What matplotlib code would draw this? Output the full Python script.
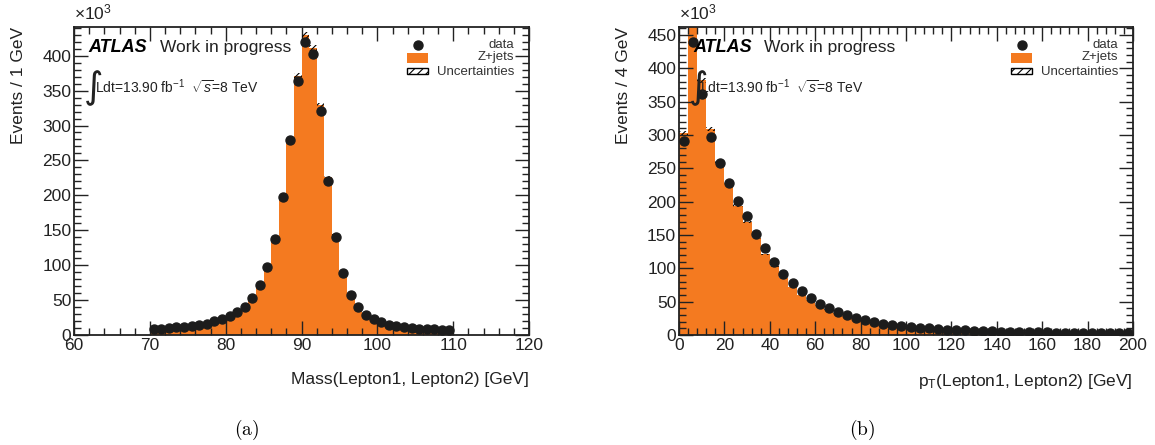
import matplotlib
matplotlib.use('Agg')
import matplotlib.pyplot as plt
import numpy as np
from matplotlib.patches import Rectangle
from matplotlib.ticker import MultipleLocator

plt.rcParams['font.family'] = ['Liberation Sans', 'DejaVu Sans']
plt.rcParams['mathtext.fontset'] = 'custom'
plt.rcParams['mathtext.rm'] = 'Liberation Sans'
plt.rcParams['mathtext.it'] = 'Liberation Sans:italic'
plt.rcParams['hatch.linewidth'] = 0.8

ORANGE = '#f47a20'
DOT = '#1c1c1c'

# ---- mass panel: 1 GeV bins, 60-120 GeV, values in thousands of events ----
mass_edges = np.arange(60, 121, 1)
mass_mc = [0] * 10 + [
    8, 9, 10, 11, 12, 13, 14.5, 16, 19, 22,
    26, 32, 39, 51, 69, 96, 135, 198, 281, 371,
    429, 411, 329, 226, 143, 88, 58, 40, 29, 23,
    18, 15, 12.5, 11, 10, 9, 8.5, 8, 7.5, 7,
] + [0] * 10
mass_data_x = np.arange(70.5, 110.5, 1)
mass_data = [
    8, 9, 9.5, 11, 12, 13, 14, 16, 19.5, 23,
    27, 33, 40, 53, 71, 98, 137, 198, 279, 364,
    419, 403, 321, 221, 141, 89, 57, 40, 29, 23,
    18, 15, 12.5, 11, 10, 9, 8.5, 8, 7.5, 7,
]

# ---- pT panel: 4 GeV bins, 0-200 GeV ----
pt_edges = np.arange(0, 201, 4)
pt_mc = [
    303, 470, 382, 309, 258, 228, 194, 169, 145, 121,
    103, 86, 72, 60, 52, 45, 38, 33, 28, 24,
    21, 18, 16, 14.5, 13.5, 12, 10.5, 9.5, 8.5, 7.8,
    7.2, 6.7, 6.2, 5.8, 5.4, 5.0, 4.7, 4.4, 4.1, 3.9,
    3.7, 3.5, 3.3, 3.2, 3.1, 3.0, 2.9, 2.8, 2.7, 2.6,
]
pt_data_x = np.arange(2, 200, 4)
pt_data = [
    291, 440, 362, 297, 258, 228, 201, 178, 152, 130,
    109, 92, 78, 66, 55, 47, 40, 34, 30, 26,
    22, 19, 17, 15, 14, 12.5, 11, 10, 9, 8,
    7.5, 7, 6.5, 6, 5.5, 5, 4.8, 4.5, 4.2, 4.0,
    3.8, 3.6, 3.4, 3.3, 3.2, 3.1, 3.0, 2.9, 2.8, 2.7,
]
unc_frac = 0.01


def draw_panel(ax, edges, mc, data_x, data, xlim, ylim, xmaj, xmin, xlabel, ylabel):
    mc = np.asarray(mc, dtype=float)
    ax.stairs(mc, edges, fill=True, color=ORANGE, zorder=1)
    widths = np.diff(edges)
    unc = mc * unc_frac
    ax.bar(edges[:-1], 2 * unc, width=widths, bottom=mc - unc, align='edge',
           fill=False, hatch='//////', linewidth=0, edgecolor='black', zorder=2)
    ax.plot(data_x, data, 'o', color=DOT, markersize=6.5, zorder=3)

    ax.set_xlim(*xlim)
    ax.set_ylim(*ylim)
    ax.xaxis.set_major_locator(MultipleLocator(xmaj))
    ax.xaxis.set_minor_locator(MultipleLocator(xmin))
    ax.yaxis.set_major_locator(MultipleLocator(50))
    ax.yaxis.set_minor_locator(MultipleLocator(10))
    ax.tick_params(which='both', direction='in', top=True, right=True,
                   labelsize=12.5, width=1.0, colors='#222222')
    ax.tick_params(which='major', length=10, pad=2)
    ax.tick_params(which='minor', length=5)
    for s in ax.spines.values():
        s.set_linewidth(1.3)
        s.set_color('#222222')

    ax.set_xlabel(xlabel, fontsize=12.5, ha='right', color='#222222')
    ax.xaxis.set_label_coords(1.0, -0.12)
    ax.set_ylabel(ylabel, fontsize=12.5, ha='right', color='#222222')
    ax.yaxis.set_label_coords(-0.105, 1.0)

    ax.text(0.0, 1.015, r'$\times$10$^{3}$', transform=ax.transAxes,
            fontsize=12.5, ha='left', va='bottom', color='#222222')

    ax.text(0.031, 0.935, 'ATLAS', transform=ax.transAxes, fontsize=13,
            fontweight='bold', fontstyle='italic', va='center', ha='left')
    ax.text(0.188, 0.935, 'Work in progress', transform=ax.transAxes,
            fontsize=12.5, va='center', ha='left', color='#222222')
    ax.text(0.020, 0.800, r'$\int$', transform=ax.transAxes, fontsize=19,
            va='center', ha='left', color='#222222', math_fontfamily='dejavusans')
    ax.text(0.047, 0.805, r'Ldt=13.90 fb$^{-1}$  $\sqrt{s}$=8 TeV',
            transform=ax.transAxes, fontsize=10, va='center', ha='left',
            color='#222222')

    # ROOT-style legend: symbols on the left, right-aligned labels
    ax.plot([0.755], [0.942], 'o', color=DOT, markersize=6.5,
            transform=ax.transAxes, clip_on=False)
    ax.add_patch(Rectangle((0.731, 0.883), 0.047, 0.033, transform=ax.transAxes,
                           facecolor=ORANGE, edgecolor='none'))
    ax.add_patch(Rectangle((0.731, 0.846), 0.047, 0.022, transform=ax.transAxes,
                           facecolor='white', edgecolor='black', hatch='////',
                           linewidth=1.0))
    for y, lab in [(0.942, 'data'), (0.902, 'Z+jets'), (0.855, 'Uncertainties')]:
        ax.text(0.967, y, lab, transform=ax.transAxes, fontsize=9.5,
                ha='right', va='center', color='#333333')


fig = plt.figure(figsize=(11.55, 4.45), dpi=100)
ax1 = fig.add_axes([0.0641, 0.2472, 0.394, 0.692])
ax2 = fig.add_axes([0.5879, 0.2472, 0.393, 0.692])

draw_panel(ax1, mass_edges, mass_mc, mass_data_x, mass_data, (60, 120), (0, 441),
           10, 2, 'Mass(Lepton1, Lepton2) [GeV]', 'Events / 1 GeV')
draw_panel(ax2, pt_edges, pt_mc, pt_data_x, pt_data, (0, 200), (0, 462),
           20, 4, r'p$_\mathrm{T}$(Lepton1, Lepton2) [GeV]', 'Events / 4 GeV')

fig.text(247 / 1155, 1 - 430 / 445, r'$(\mathrm{a})$', math_fontfamily='cm',
         fontsize=14, ha='center', va='center')
fig.text(862 / 1155, 1 - 430 / 445, r'$(\mathrm{b})$', math_fontfamily='cm',
         fontsize=14, ha='center', va='center')

fig.savefig('out.png', dpi=100)
